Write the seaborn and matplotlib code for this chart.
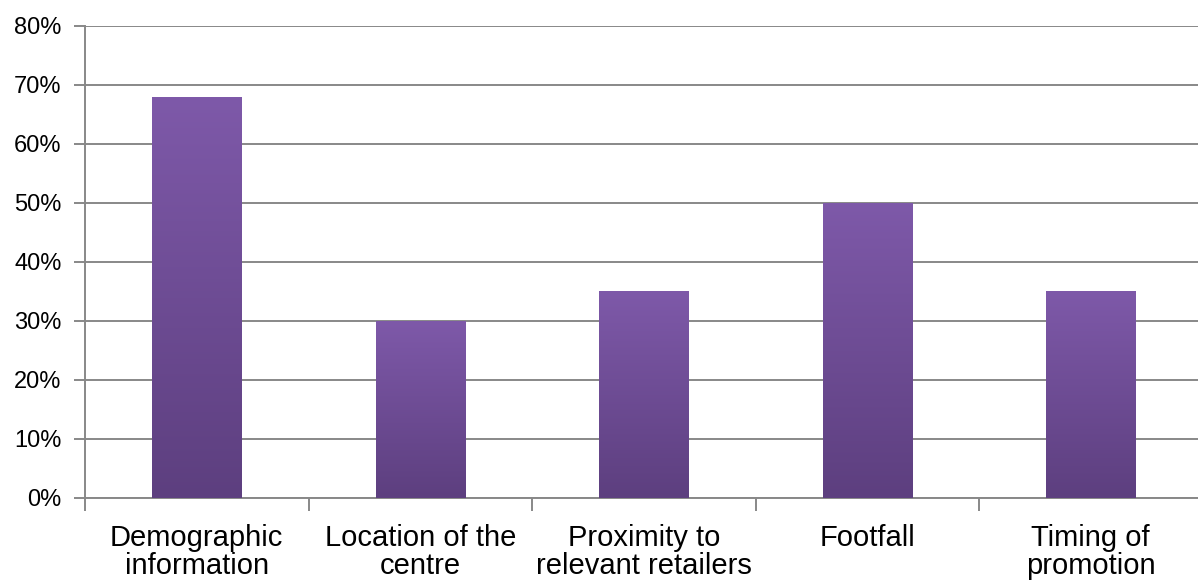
import numpy as np
import pandas as pd
import matplotlib
matplotlib.use("Agg")
import matplotlib.pyplot as plt
import seaborn as sns
from matplotlib.colors import LinearSegmentedColormap
import matplotlib.patheffects as pe

categories = ["Demographic\ninformation", "Location of the\ncentre",
              "Proximity to\nrelevant retailers", "Footfall", "Timing of\npromotion"]
values = [68, 30, 35, 50, 35]
y_ticks = [0, 10, 20, 30, 40, 50, 60, 70, 80]
y_tick_labels = [f"{v}%" for v in y_ticks]

sns.set_theme(style="white")
plt.rcParams['font.family'] = ['Liberation Sans', 'DejaVu Sans']

fig = plt.figure(figsize=(11.98, 5.82), dpi=100)
ax = fig.add_axes([85 / 1198, (582 - 497.7) / 582, 1117.5 / 1198, 471.7 / 582])

df = pd.DataFrame({"cat": categories, "val": values})
sns.barplot(data=df, x="cat", y="val", ax=ax, color="#5E4181", width=0.40,
            saturation=1, zorder=3)

cmap = LinearSegmentedColormap.from_list("grad", ["#5D3F7F", "#7E59A9"])
grad = np.linspace(0, 1, 256).reshape(-1, 1)
for p in ax.patches:
    x0, y0 = p.get_x(), p.get_y()
    w, h = p.get_width(), p.get_height()
    p.set_edgecolor("none")
    p.set_path_effects([pe.SimplePatchShadow(offset=(0, -1), shadow_rgbFace="#999999", alpha=0.35),
                        pe.Normal()])
    im = ax.imshow(grad, cmap=cmap, origin="lower", aspect="auto",
                   extent=[x0, x0 + w, y0, y0 + h], zorder=4)
    im.set_clip_path(p)

ax.set_xlim(-0.5, len(categories) - 0.5)
ax.set_ylim(0, 80)

ax.set_yticks(y_ticks)
ax.set_yticklabels(y_tick_labels, fontsize=17, color="#000000")
ax.yaxis.grid(True, color="#888888", linewidth=1.4, zorder=0)
ax.set_axisbelow(True)

ax.set_xticks(np.arange(-0.5, len(categories) + 0.5, 1.0))
ax.set_xticklabels([])
ax.set_xticks(np.arange(len(categories)), minor=True)
ax.set_xticklabels(categories, minor=True, fontsize=21, color="#000000",
                   linespacing=0.98)
ax.tick_params(axis="x", which="major", length=9, width=1.4, color="#888888",
               direction="out", bottom=True)
ax.tick_params(axis="x", which="minor", length=0, pad=19)
ax.tick_params(axis="y", which="major", length=8, width=1.4, color="#888888",
               direction="out", left=True, pad=9)

ax.set_xlabel("")
ax.set_ylabel("")
for s in ["top", "right"]:
    ax.spines[s].set_visible(False)
for s in ["left", "bottom"]:
    ax.spines[s].set_color("#888888")
    ax.spines[s].set_linewidth(1.4)

fig.savefig("out.png", dpi=100)
